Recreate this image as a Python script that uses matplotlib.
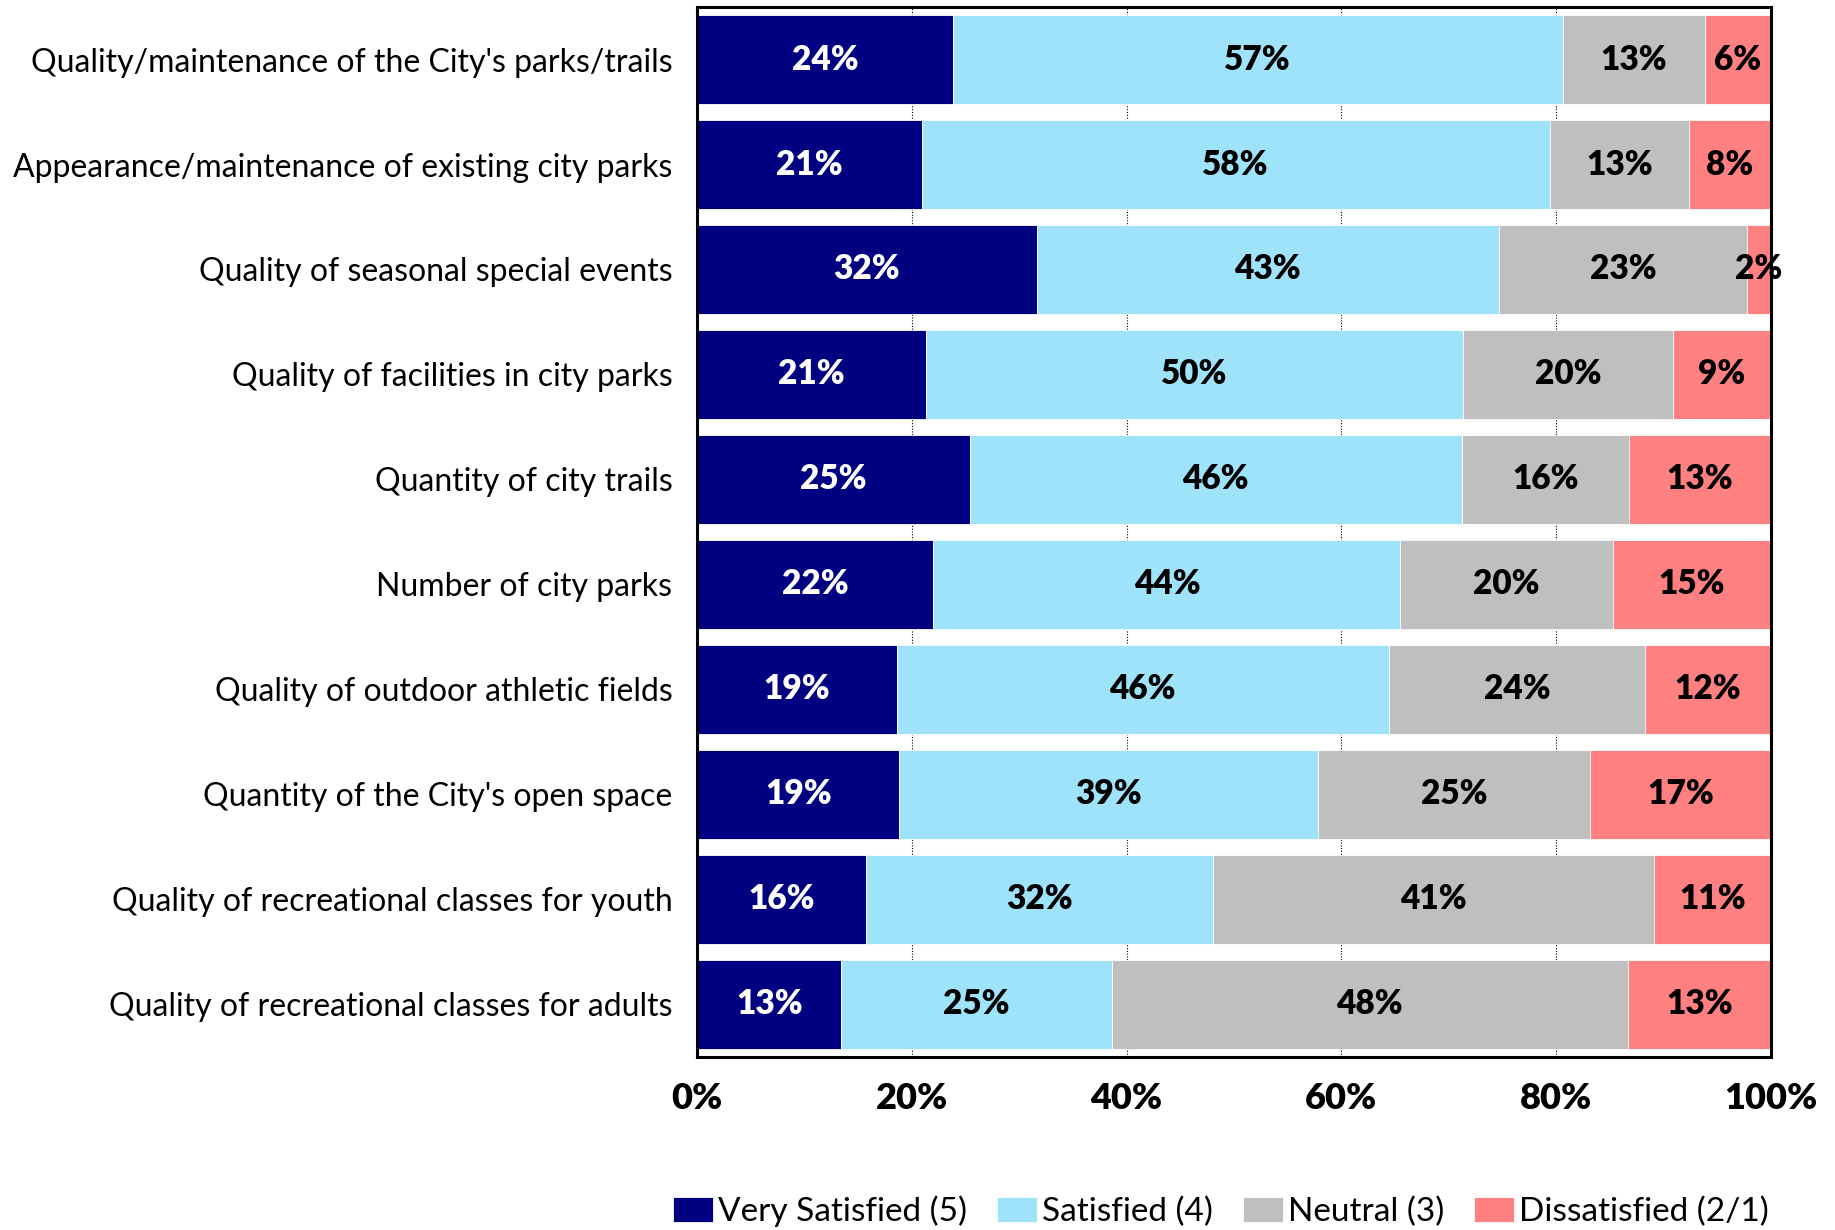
import matplotlib.pyplot as plt
import numpy as np

# Survey items (top to bottom)
items = [
    "Quality/maintenance of the City's parks/trails",
    "Appearance/maintenance of existing city parks",
    "Quality of seasonal special events",
    "Quality of facilities in city parks",
    "Quantity of city trails",
    "Number of city parks",
    "Quality of outdoor athletic fields",
    "Quantity of the City's open space",
    "Quality of recreational classes for youth",
    "Quality of recreational classes for adults",
]

very_satisfied = [23.8, 20.9, 31.6, 21.3, 25.4, 22.0, 18.6, 18.8, 15.7, 13.4]
satisfied = [56.8, 58.5, 43.1, 50.0, 45.8, 43.5, 45.8, 39.0, 32.3, 25.2]
neutral = [13.3, 13.0, 23.1, 19.6, 15.6, 19.8, 23.9, 25.4, 41.1, 48.1]
dissatisfied = [6.1, 7.6, 2.2, 9.1, 13.2, 14.6, 11.7, 16.8, 10.9, 13.3]

series_names = ["Very Satisfied (5)", "Satisfied (4)", "Neutral (3)", "Dissatisfied (2/1)"]
colors = ["#000080", "#9FE3FB", "#BFBFBF", "#FF8080"]
text_colors = ["white", "black", "black", "black"]

plt.rcParams['font.family'] = ['Lato', 'DejaVu Sans']

fig = plt.figure(figsize=(18.35, 12.3), dpi=100)
ax = fig.add_axes([0.380, 0.1407, 0.585, 0.8536])

y = np.arange(len(items))
left = np.zeros(len(items))
for vals, name, col, tc in zip([very_satisfied, satisfied, neutral, dissatisfied],
                               series_names, colors, text_colors):
    vals = np.array(vals)
    ax.barh(y, vals, left=left, height=0.85, color=col, label=name,
            edgecolor='white', linewidth=0.6, zorder=2)
    for yi, l, v in zip(y, left, vals):
        ax.text(l + v / 2, yi, f"{round(v):.0f}%", ha='center', va='center',
                color=tc, fontsize=24, fontweight='heavy', zorder=3)
    left += vals

ax.set_xlim(0, 100)
ax.set_ylim(len(items) - 0.5, -0.5)
ax.set_yticks(y)
ax.set_yticklabels(items, fontsize=23)
ax.set_xticks(np.arange(0, 101, 20))
ax.set_xticklabels([f"{t}%" for t in range(0, 101, 20)], fontsize=26, fontweight='heavy')
ax.tick_params(axis='y', length=0, pad=18)
ax.tick_params(axis='x', length=0, pad=18)
ax.xaxis.grid(True, color='black', linestyle=(0, (1, 1.5)), linewidth=0.8, zorder=0)
ax.set_axisbelow(True)
for s in ax.spines.values():
    s.set_linewidth(2.2)
    s.set_color('black')

ax.legend(loc='center', bbox_to_anchor=(0.488, -0.147), ncol=4, frameon=False,
          fontsize=24, handlelength=1.2, handleheight=0.8, handletextpad=0.15,
          columnspacing=0.9, borderaxespad=0, borderpad=0.1)

fig.savefig("out.png", dpi=100)
